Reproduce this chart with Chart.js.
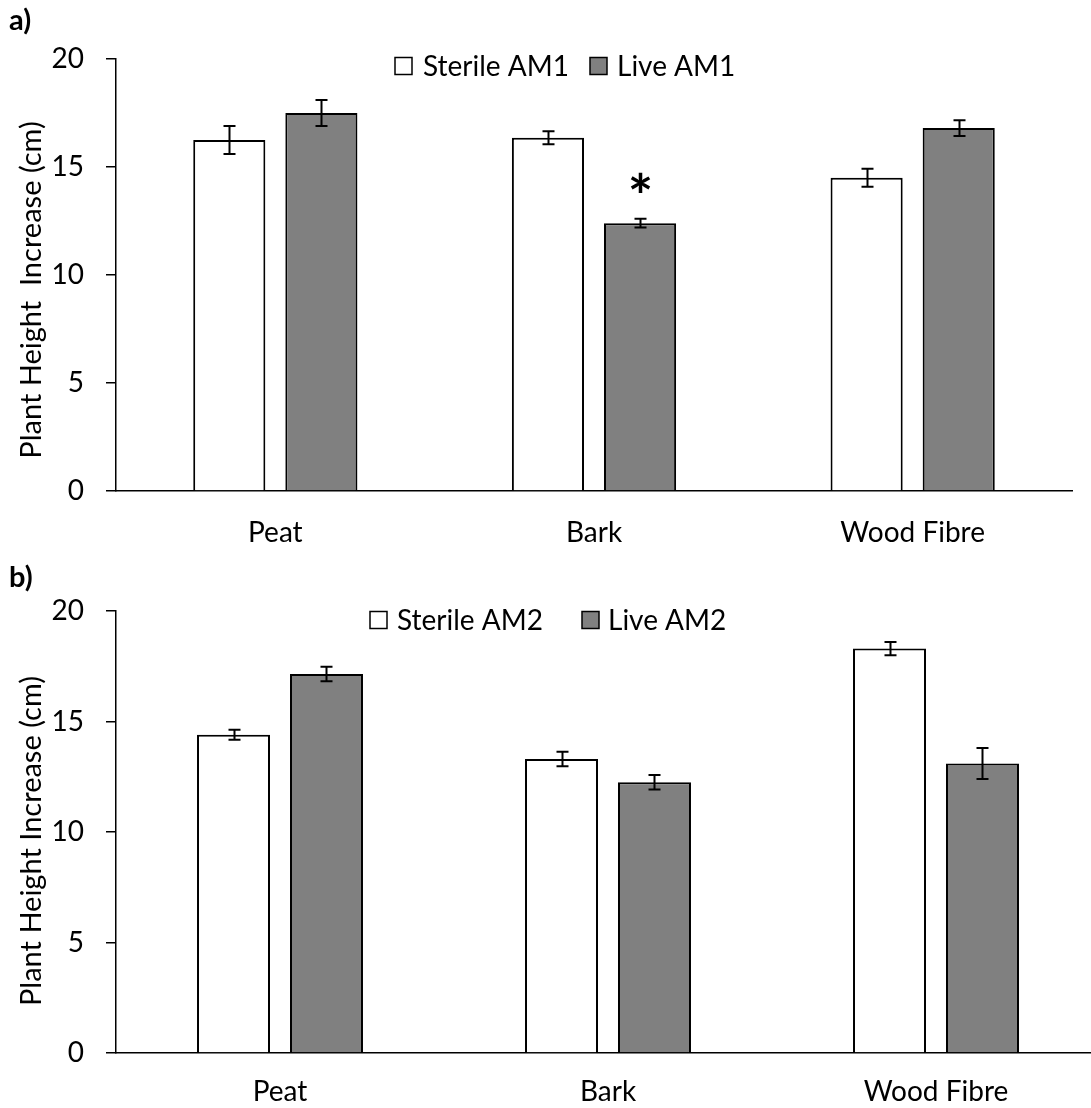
<!DOCTYPE html>
<html>
<head>
<meta charset="utf-8">
<script src="https://cdn.jsdelivr.net/npm/chart.js@4.4.0/dist/chart.umd.min.js"></script>
<style>
  html, body { margin: 0; padding: 0; background: #fff; overflow: hidden; width: 1091px; height: 1108px; }
  .panel { position: absolute; left: 0; }
  #panelA { top: 0; }
  #panelB { top: 560px; }
</style>
</head>
<body>
<canvas id="panelA" class="panel" width="1091" height="560"></canvas>
<canvas id="panelB" class="panel" width="1100" height="548"></canvas>
<script>
// Growth media (x categories) and y-axis tick values
const categories = ['Peat', 'Bark', 'Wood Fibre'];
const yTicks = [0, 5, 10, 15, 20];

// Panel a) – AM1 inoculum, means and standard errors (cm)
const sterileAM1 = [16.25, 16.35, 14.5];
const sterileAM1Err = [0.65, 0.3, 0.42];
const liveAM1 = [17.5, 12.4, 16.8];
const liveAM1Err = [0.6, 0.2, 0.36];
const liveAM1Sig = ['', '*', ''];

// Panel b) – AM2 inoculum, means and standard errors (cm)
const sterileAM2 = [14.4, 13.3, 18.3];
const sterileAM2Err = [0.23, 0.33, 0.3];
const liveAM2 = [17.15, 12.25, 13.1];
const liveAM2Err = [0.33, 0.33, 0.7];

const FONT = 'Lato, "Open Sans", sans-serif';

// Error bars, significance marks, axis title, legend and panel tag
const extrasPlugin = {
  id: 'extras',
  afterDatasetsDraw(chart, args, opts) {
    const ctx = chart.ctx;
    const yScale = chart.scales.y;
    const area = chart.chartArea;
    ctx.save();
    chart.data.datasets.forEach((ds, di) => {
      const meta = chart.getDatasetMeta(di);
      meta.data.forEach((bar, i) => {
        const v = ds.data[i];
        const e = ds.errors ? ds.errors[i] : 0;
        const yTop = yScale.getPixelForValue(v + e);
        const yBot = yScale.getPixelForValue(v - e);
        const x = Math.round(bar.x) + 0.5;
        ctx.strokeStyle = '#000';
        ctx.lineWidth = 2;
        ctx.beginPath();
        ctx.moveTo(x, yTop); ctx.lineTo(x, yBot);
        ctx.moveTo(x - 6, yTop); ctx.lineTo(x + 6, yTop);
        ctx.moveTo(x - 6, yBot); ctx.lineTo(x + 6, yBot);
        ctx.stroke();
        if (ds.marks && ds.marks[i]) {
          ctx.fillStyle = '#000';
          ctx.font = 'bold 60px ' + FONT;
          ctx.textAlign = 'center';
          ctx.textBaseline = 'alphabetic';
          ctx.fillText(ds.marks[i], x, yTop - 1);
        }
      });
    });

    // y-axis title
    ctx.save();
    ctx.translate(opts.titleX, (area.top + area.bottom) / 2 + opts.titleShift);
    ctx.rotate(-Math.PI / 2);
    ctx.font = '29px ' + FONT;
    ctx.fillStyle = '#000';
    ctx.textAlign = 'center';
    ctx.textBaseline = 'middle';
    ctx.fillText(opts.title, 0, 0);
    ctx.restore();

    // legend
    ctx.font = opts.legendFont;
    ctx.textAlign = 'left';
    ctx.textBaseline = 'middle';
    opts.legend.forEach((item, i) => {
      const ds = chart.data.datasets[i];
      ctx.fillStyle = ds.backgroundColor;
      ctx.fillRect(item.box, opts.legendY - 8.5, 17, 17);
      ctx.strokeStyle = '#000';
      ctx.lineWidth = 1.5;
      ctx.strokeRect(item.box, opts.legendY - 8.5, 17, 17);
      ctx.fillStyle = '#000';
      ctx.fillText(ds.label, item.text, opts.legendY + 1);
    });

    // panel tag
    ctx.font = 'bold 29px ' + FONT;
    ctx.textAlign = 'left';
    ctx.textBaseline = 'middle';
    ctx.fillText(opts.tag, 9, opts.tagY);
    ctx.restore();
  }
};

function makePanel(canvasId, cfg) {
  return new Chart(document.getElementById(canvasId), {
    type: 'bar',
    data: {
      labels: categories,
      datasets: [
        { label: cfg.names[0], data: cfg.sterile, errors: cfg.sterileErr,
          backgroundColor: '#ffffff', borderColor: '#000', borderWidth: 2,
          categoryPercentage: cfg.catPct, barPercentage: cfg.barPct },
        { label: cfg.names[1], data: cfg.live, errors: cfg.liveErr, marks: cfg.marks,
          backgroundColor: '#808080', borderColor: '#000', borderWidth: 2,
          categoryPercentage: cfg.catPct, barPercentage: cfg.barPct }
      ]
    },
    options: {
      responsive: false,
      animation: false,
      devicePixelRatio: 1,
      layout: { padding: { top: cfg.top, right: cfg.right, left: 0, bottom: 0 } },
      plugins: {
        legend: { display: false },
        tooltip: { enabled: false },
        extras: { legend: cfg.legend, legendY: cfg.legendY, legendFont: '28px ' + FONT,
                  tag: cfg.tag, tagY: cfg.tagY,
                  title: cfg.yTitle, titleX: 32, titleShift: cfg.titleShift }
      },
      scales: {
        x: {
          grid: { display: false },
          border: { color: '#000', width: 1.5 },
          ticks: { color: '#000', font: { family: FONT, size: 28 }, padding: cfg.xPad },
          afterFit(s) { s.height = cfg.xHeight; }
        },
        y: {
          min: 0, max: 20,
          afterBuildTicks(s) { s.ticks = yTicks.map(v => ({ value: v })); },
          grid: { drawOnChartArea: false, drawTicks: true, tickLength: 10, color: '#000', lineWidth: 1.5 },
          border: { color: '#000', width: 1.5 },
          ticks: { color: '#000', font: { family: FONT, size: 28 }, padding: 22 },
          afterFit(s) { s.width = 116; }
        }
      }
    },
    plugins: [extrasPlugin]
  });
}

makePanel('panelA', {
  names: ['Sterile AM1', 'Live AM1'],
  sterile: sterileAM1, sterileErr: sterileAM1Err,
  live: liveAM1, liveErr: liveAM1Err, marks: liveAM1Sig,
  catPct: 0.578, barPct: 0.783,
  top: 59, right: 19, xHeight: 69, xPad: 17,
  yTitle: 'Plant Height  Increase (cm)', titleShift: 15,
  legend: [{ box: 395, text: 423 }, { box: 590, text: 617 }], legendY: 66,
  tag: 'a)', tagY: 21
});

makePanel('panelB', {
  names: ['Sterile AM2', 'Live AM2'],
  sterile: sterileAM2, sterileErr: sterileAM2Err,
  live: liveAM2, liveErr: liveAM2Err, marks: null,
  catPct: 0.567, barPct: 0.785,
  top: 51, right: 0, xHeight: 55, xPad: 14,
  yTitle: 'Plant Height Increase (cm)', titleShift: 9,
  legend: [{ box: 370, text: 397 }, { box: 582, text: 608 }], legendY: 60,
  tag: 'b)', tagY: 18
});
</script>
</body>
</html>
